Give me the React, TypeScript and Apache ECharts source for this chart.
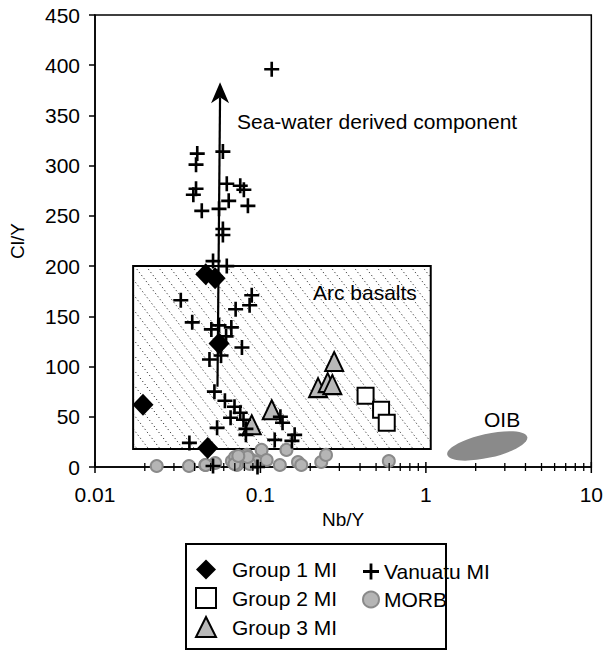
import React, { useEffect, useRef } from "react";
import * as echarts from "echarts";

const FONT = '"Liberation Sans", Arial, Helvetica, sans-serif';

// Nb/Y, Cl/Y
const group1: number[][] = [
  [0.0195, 62], [0.048, 19], [0.0467, 192], [0.0532, 188], [0.0562, 123],
];
const group2: number[][] = [
  [0.432, 71], [0.536, 57], [0.58, 44],
];
const group3: number[][] = [
  [0.279, 105], [0.223, 79], [0.255, 84], [0.272, 82], [0.117, 57], [0.0886, 42],
];
const vanuatu: number[][] = [
  [0.117, 396], [0.0415, 312], [0.0593, 314], [0.0408, 301], [0.0408, 277],
  [0.0393, 271], [0.0442, 255], [0.0626, 282], [0.0755, 280], [0.0794, 276],
  [0.084, 260], [0.0643, 265], [0.0562, 257], [0.0593, 237], [0.0593, 231],
  [0.0517, 205], [0.0626, 200], [0.033, 166], [0.0886, 171], [0.086, 161],
  [0.0708, 157], [0.0387, 144], [0.0505, 137], [0.0562, 141], [0.0667, 139],
  [0.062, 130], [0.0773, 119], [0.0492, 107], [0.0578, 111], [0.0527, 75],
  [0.061, 66], [0.0697, 60], [0.0755, 54], [0.066, 49], [0.079, 47],
  [0.0547, 39], [0.0817, 38], [0.0817, 32], [0.132, 50], [0.136, 44],
  [0.122, 27], [0.161, 32], [0.155, 26], [0.0372, 24], [0.0517, 1], [0.096, 0],
];
const morb: number[][] = [
  [0.0236, 1], [0.037, 1], [0.0464, 2], [0.0533, 4], [0.0672, 6], [0.072, 2],
  [0.0703, 10], [0.0827, 12], [0.0886, 7], [0.1016, 17], [0.0948, 5], [0.109, 7],
  [0.131, 2], [0.1436, 17], [0.1686, 5], [0.1766, 2], [0.233, 5], [0.249, 12],
  [0.597, 6], [0.0862, 3], [0.0697, 3], [0.0836, 10], [0.0467, 2], [0.0735, 11],
];

// Arc basalts field [xmin, xmax], [ymin, ymax]
const arcBoxX = [0.017, 1.07];
const arcBoxY = [18, 200];
// Sea-water arrow [start, end]
const arrowX = [0.055, 0.057];
const arrowY = [80, 383];
// OIB field centre
const oibCentre = [2.35, 21];

const xMajorTicks = [0.01, 0.1, 1, 10];
const xMinorTicks = [
  0.02, 0.03, 0.04, 0.05, 0.06, 0.07, 0.08, 0.09,
  0.2, 0.3, 0.4, 0.5, 0.6, 0.7, 0.8, 0.9,
  2, 3, 4, 5, 6, 7, 8, 9,
];

const PLUS = "path://M6.6,0H9.4V6.6H16V9.4H9.4V16H6.6V9.4H0V6.6H6.6Z";

export default function App() {
  const ref = useRef<HTMLDivElement>(null);
  useEffect(() => {
    if (!ref.current) return;
    const chart = echarts.init(ref.current, null, { renderer: "svg" });
    const text = { fontFamily: FONT, color: "#000" };
    const option: any = {
      animation: false,
      backgroundColor: "#fff",
      grid: {
        left: 92, top: 15, width: 500, height: 452,
        show: true, borderColor: "#000", borderWidth: 1.5, backgroundColor: "transparent",
      },
      xAxis: {
        type: "log", logBase: 10, min: 0.01, max: 10,
        name: "Nb/Y", nameLocation: "middle", nameGap: 43,
        nameTextStyle: { ...text, fontSize: 19 },
        axisLine: { lineStyle: { color: "#000", width: 1.5 } },
        axisTick: { show: false },
        minorTick: { show: false },
        splitLine: { show: false },
        axisLabel: {
          ...text, fontSize: 21, margin: 17,
          formatter: (v: number) => (v >= 1 ? String(Math.round(v)) : String(Number(v.toPrecision(1)))),
        },
      },
      yAxis: {
        type: "value", min: 0, max: 450, interval: 50,
        name: "Cl/Y", nameLocation: "middle", nameGap: 68,
        nameTextStyle: { ...text, fontSize: 19 },
        axisLine: { show: true, lineStyle: { color: "#000", width: 1.5 } },
        axisTick: { show: true, length: 6, lineStyle: { color: "#000", width: 1.5 } },
        splitLine: { show: false },
        axisLabel: { ...text, fontSize: 21, margin: 15 },
      },
      legend: [
        {
          data: ["Group 1 MI", "Group 2 MI", "Group 3 MI"],
          orient: "vertical", left: 195, top: 559, padding: 0,
          itemWidth: 20, itemHeight: 20, itemGap: 7,
          textStyle: { ...text, fontSize: 21, padding: [0, 0, 0, 11] },
        },
        {
          data: ["Vanuatu MI", "MORB"],
          orient: "vertical", left: 362, top: 561, padding: 0,
          itemWidth: 16, itemHeight: 16, itemGap: 7,
          textStyle: { ...text, fontSize: 21 },
        },
      ],
      graphic: [
        { type: "rect", shape: { x: 186, y: 544, width: 260, height: 105 }, style: { fill: "none", stroke: "#000", lineWidth: 2 }, z: 100 },
        { type: "text", x: 237, y: 121, style: { text: "Sea-water derived component", font: `21px ${FONT}`, fill: "#000", verticalAlign: "middle" }, z: 100 },
        { type: "text", x: 313, y: 292, style: { text: "Arc basalts", font: `21px ${FONT}`, fill: "#000", verticalAlign: "middle" }, z: 100 },
        { type: "text", x: 484, y: 419, style: { text: "OIB", font: `21px ${FONT}`, fill: "#000", verticalAlign: "middle" }, z: 100 },
      ],
      series: [
        {
          type: "custom", name: "arcBox", z: 1, silent: true,
          data: [[arcBoxX[0], arcBoxY[0], arcBoxX[1], arcBoxY[1]]],
          renderItem: (params: any, api: any) => {
            const p0 = api.coord([api.value(0), api.value(3)]);
            const p1 = api.coord([api.value(2), api.value(1)]);
            const L = p0[0], T = p0[1], R = p1[0], B = p1[1];
            const s = 1.3;
            const d = 11.5;
            const children: any[] = [
              { type: "rect", shape: { x: L, y: T, width: R - L, height: B - T }, style: { fill: "#fff", stroke: "none" } },
            ];
            for (let k = L - B / s + 4; k < R - T / s; k += d) {
              const xs = Math.max(L, k + T / s);
              const xe = Math.min(R, k + B / s);
              if (xe - xs < 1) continue;
              children.push({
                type: "line",
                shape: { x1: xs, y1: s * (xs - k), x2: xe, y2: s * (xe - k) },
                style: { stroke: "#333", lineWidth: 1, lineDash: [1.2, 2.6] },
              });
            }
            children.push({ type: "rect", shape: { x: L, y: T, width: R - L, height: B - T }, style: { fill: "none", stroke: "#000", lineWidth: 2 } });
            return { type: "group", children };
          },
        },
        {
          type: "custom", name: "oib", z: 1, silent: true,
          data: [oibCentre],
          renderItem: (params: any, api: any) => {
            const c = api.coord([api.value(0), api.value(1)]);
            return {
              type: "ellipse", x: c[0], y: c[1], rotation: 0.22,
              shape: { cx: 0, cy: 0, rx: 41, ry: 12 },
              style: { fill: "#8a8a8a" },
            };
          },
        },
        {
          type: "custom", name: "ticks", z: 3, silent: true,
          data: [[1, 0]],
          renderItem: (params: any, api: any) => {
            const children: any[] = [];
            xMajorTicks.forEach((v) => {
              const p = api.coord([v, 0]);
              children.push({ type: "line", shape: { x1: p[0], y1: p[1] - 5, x2: p[0], y2: p[1] + 6 }, style: { stroke: "#000", lineWidth: 1.5 } });
            });
            xMinorTicks.forEach((v) => {
              const p = api.coord([v, 0]);
              children.push({ type: "line", shape: { x1: p[0], y1: p[1] - 4, x2: p[0], y2: p[1] + 4 }, style: { stroke: "#000", lineWidth: 1.3 } });
            });
            return { type: "group", children };
          },
        },
        {
          type: "scatter", name: "MORB", z: 2, data: morb,
          symbol: "circle", symbolSize: 12,
          itemStyle: { color: "#b5b5b5", borderColor: "#8a8a8a", borderWidth: 2, opacity: 1 },
        },
        {
          type: "scatter", name: "Group 3 MI", z: 3, data: group3,
          symbol: "triangle", symbolSize: [18, 19],
          itemStyle: { color: "#b8b8b8", borderColor: "#000", borderWidth: 2, opacity: 1 },
        },
        {
          type: "scatter", name: "Group 2 MI", z: 3, data: group2,
          symbol: "rect", symbolSize: 16,
          itemStyle: { color: "#fff", borderColor: "#000", borderWidth: 2, opacity: 1 },
        },
        {
          type: "scatter", name: "Group 1 MI", z: 4, data: group1,
          symbol: "diamond", symbolSize: [21, 22],
          itemStyle: { color: "#000", opacity: 1 },
        },
        {
          type: "scatter", name: "Vanuatu MI", z: 5, data: vanuatu,
          symbol: PLUS, symbolSize: 15,
          itemStyle: { color: "#000", opacity: 1 },
        },
        {
          type: "custom", name: "arrow", z: 6, silent: true,
          data: [[arrowX[0], arrowY[0], arrowX[1], arrowY[1]]],
          renderItem: (params: any, api: any) => {
            const a = api.coord([api.value(0), api.value(1)]);
            const b = api.coord([api.value(2), api.value(3)]);
            const len = 21, hw = 9, notch = 15;
            return {
              type: "group",
              children: [
                { type: "line", shape: { x1: a[0], y1: a[1], x2: b[0], y2: b[1] + notch }, style: { stroke: "#000", lineWidth: 2.2 } },
                {
                  type: "polygon",
                  shape: { points: [[b[0], b[1]], [b[0] - hw, b[1] + len], [b[0], b[1] + notch], [b[0] + hw, b[1] + len]] },
                  style: { fill: "#000" },
                },
              ],
            };
          },
        },
      ],
    };
    chart.setOption(option);
    return () => chart.dispose();
  }, []);
  return <div ref={ref} style={{ position: "absolute", left: 0, top: 0, width: 606, height: 651 }} />;
}
